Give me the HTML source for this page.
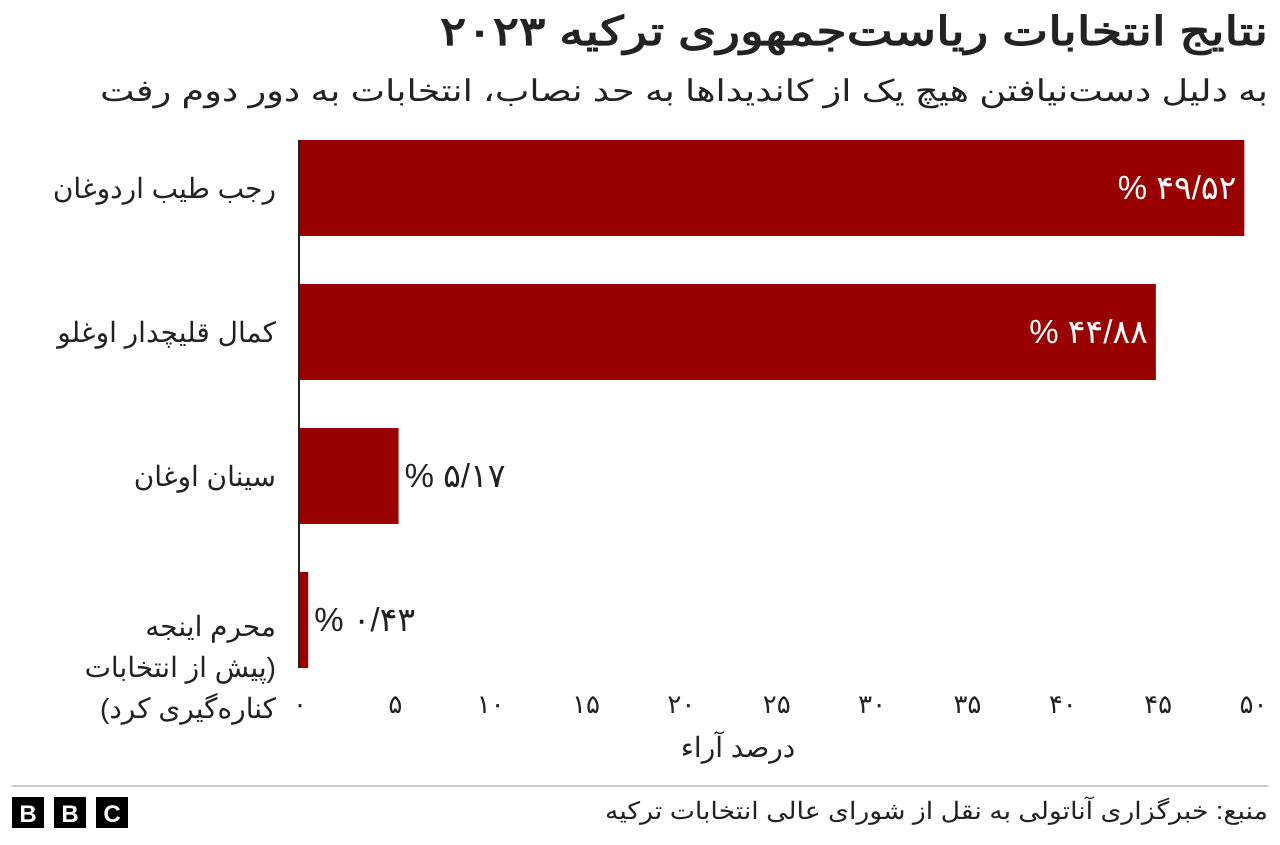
<!DOCTYPE html>
<html><head><meta charset="utf-8">
<style>
body{margin:0;background:#fff;width:1280px;height:840px;overflow:hidden;font-family:"Liberation Sans","Noto Sans CJK SC",sans-serif;}
</style></head>
<body>
<svg id="chart" width="1280" height="840" xmlns="http://www.w3.org/2000/svg" style="font-family:'Liberation Sans','Noto Sans CJK SC',sans-serif">
<text x="1268" y="45" text-anchor="start" direction="rtl" font-size="40" font-weight="bold" fill="#222" textLength="828" lengthAdjust="spacingAndGlyphs">نتایج انتخابات ریاست‌جمهوری ترکیه ۲۰۲۳</text>
<text x="1268" y="101" text-anchor="start" direction="rtl" font-size="30" fill="#222" textLength="1168" lengthAdjust="spacingAndGlyphs">به دلیل دست‌نیافتن هیچ یک از کاندیداها به حد نصاب، انتخابات به دور دوم رفت</text>
<g id="bars"></g>
<line x1="299" y1="140" x2="299" y2="668" stroke="#222" stroke-width="2"/>
<g id="ticks"></g>
<text x="738" y="757" text-anchor="middle" direction="rtl" font-size="28" fill="#222">درصد آراء</text>
<line x1="12" y1="786" x2="1268" y2="786" stroke="#999" stroke-width="1"/>
<g>
<rect x="12" y="797" width="32" height="31" fill="#000"/><text x="28" y="822" text-anchor="middle" font-size="24" font-weight="bold" fill="#fff">B</text>
<rect x="54" y="797" width="32" height="31" fill="#000"/><text x="70" y="822" text-anchor="middle" font-size="24" font-weight="bold" fill="#fff">B</text>
<rect x="96" y="797" width="32" height="31" fill="#000"/><text x="112" y="822" text-anchor="middle" font-size="24" font-weight="bold" fill="#fff">C</text>
</g>
<text x="1268" y="819" text-anchor="start" direction="rtl" font-size="24" fill="#222" textLength="663" lengthAdjust="spacingAndGlyphs">منبع: خبرگزاری آناتولی به نقل از شورای عالی انتخابات ترکیه</text>
</svg>
<script>
const categories=[["رجب طیب اردوغان"],["کمال قلیچدار اوغلو"],["سینان اوغان"],["محرم اینجه","(پیش از انتخابات","کناره‌گیری کرد)"]];
const values=[49.52,44.88,5.17,0.43];
const valueLabels=["% ۴۹/۵۲","% ۴۴/۸۸","% ۵/۱۷","% ۰/۴۳"];
const tickValues=[0,5,10,15,20,25,30,35,40,45,50];
const tickLabels=["۰","۵","۱۰","۱۵","۲۰","۲۵","۳۰","۳۵","۴۰","۴۵","۵۰"];
const NS="http://www.w3.org/2000/svg";
const x=v=>300+v*19.07;
const y=i=>140+i*144;
const bh=96;
const gb=document.getElementById('bars'),gt=document.getElementById('ticks');
function mk(tag,attrs,p){const e=document.createElementNS(NS,tag);for(const k in attrs)e.setAttribute(k,attrs[k]);p.appendChild(e);return e;}
values.forEach((v,i)=>{
 const r=mk('rect',{x:x(0),y:y(i),width:x(v)-x(0),height:bh,fill:'#990000'},gb);
 
 
 const inside=v>20;
 const t=mk('text',{x:inside?x(v)-8:x(v)+6,y:y(i)+bh/2+11,'text-anchor':inside?'end':'start','font-size':33,fill:inside?'#fff':'#222',direction:'ltr'},gb);
 t.textContent=valueLabels[i];
 
 
 const lines=categories[i];
 const y0=lines.length>1?y(i)+64:y(i)+bh/2+10;
 lines.forEach((ln,j)=>{
  const c=mk('text',{x:276,y:y0+j*41,'text-anchor':'start',direction:'rtl','font-size':28,fill:'#222'},gb);
  c.textContent=ln;
  
  
 });
});
tickValues.forEach((v,i)=>{
 const t=mk('text',{x:x(v),y:713,'text-anchor':'middle','font-size':26,fill:'#222'},gt);
 t.textContent=tickLabels[i];
 
 
});
</script>
</body></html>
